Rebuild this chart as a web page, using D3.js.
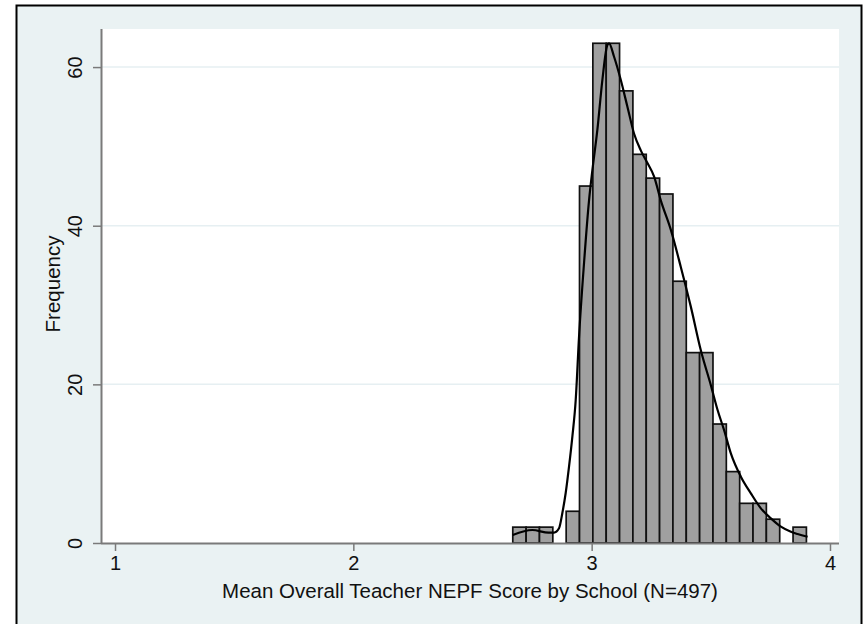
<!DOCTYPE html>
<html>
<head>
<meta charset="utf-8">
<script src="https://cdn.jsdelivr.net/npm/d3@7"></script>
<style>
  html, body { margin: 0; padding: 0; background: #ffffff; }
  svg { display: block; }
  text { font-family: "Liberation Sans", Arial, sans-serif; fill: #111; }
</style>
</head>
<body>
<script>
// ---- data ----
const binStart = 2.669;
const binWidth = 0.056;
const frequencies = [2, 2, 2, 0, 4, 45, 63, 63, 57, 49, 46, 44, 33, 24, 24, 15, 9, 5, 5, 3, 0, 2];
const densityX = [2.669, 2.751, 2.819, 2.842, 2.863, 2.877, 2.891, 2.905, 2.919, 2.933, 2.947, 2.968, 2.989, 3.003, 3.024, 3.045, 3.066, 3.073, 3.094, 3.122, 3.150, 3.178, 3.206, 3.234, 3.262, 3.290, 3.332, 3.374, 3.416, 3.458, 3.500, 3.528, 3.556, 3.584, 3.626, 3.668, 3.710, 3.752, 3.794, 3.836, 3.864, 3.906];
const densityY = [1.01, 1.64, 1.30, 1.30, 1.85, 3.78, 6.30, 9.62, 13.4, 18.0, 26.0, 35.3, 43.2, 47.0, 52.1, 58.4, 62.8, 63.0, 61.3, 58.4, 55.0, 51.6, 49.5, 47.9, 46.2, 43.2, 39.5, 34.8, 29.8, 24.3, 19.9, 16.8, 14.2, 11.3, 8.36, 6.26, 4.37, 3.11, 2.06, 1.42, 1.13, 0.79];
const xTicks = [1, 2, 3, 4];
const yTicks = [0, 20, 40, 60];
const xLabel = "Mean Overall Teacher NEPF Score by School (N=497)";
const yLabel = "Frequency";

// ---- layout ----
const W = 868, H = 624;
const plot = { left: 101, right: 839, top: 29, bottom: 543 };

const svg = d3.select("body").append("svg").attr("width", W).attr("height", H);

// outer graph region
svg.append("rect").attr("x", 16.5).attr("y", 5.5).attr("width", 845).attr("height", 640)
  .attr("fill", "#eaf2f3").attr("stroke", "#000").attr("stroke-width", 2);

// plot region
svg.append("rect").attr("x", plot.left).attr("y", plot.top)
  .attr("width", plot.right - plot.left).attr("height", plot.bottom - plot.top)
  .attr("fill", "#ffffff");

const x = d3.scaleLinear().domain([0.9412, 4.0378]).range([plot.left, plot.right]);
const y = d3.scaleLinear().domain([0, 64.8]).range([plot.bottom, plot.top]);

// gridlines
svg.append("g").selectAll("line").data(yTicks.filter(d => d > 0)).join("line")
  .attr("x1", plot.left).attr("x2", plot.right)
  .attr("y1", d => y(d)).attr("y2", d => y(d))
  .attr("stroke", "#e6eff2").attr("stroke-width", 1.5);

// bars
const bins = frequencies.map((f, i) => ({ x0: binStart + i * binWidth, x1: binStart + (i + 1) * binWidth, f }));
svg.append("g").selectAll("rect").data(bins.filter(b => b.f > 0)).join("rect")
  .attr("x", d => x(d.x0)).attr("width", d => x(d.x1) - x(d.x0))
  .attr("y", d => y(d.f)).attr("height", d => y(0) - y(d.f))
  .attr("fill", "#a0a0a0").attr("stroke", "#111").attr("stroke-width", 1.7);

// density curve
const pts = densityX.map((v, i) => [v, densityY[i]]);
svg.append("path").datum(pts)
  .attr("d", d3.line().x(d => x(d[0])).y(d => y(d[1])).curve(d3.curveMonotoneX))
  .attr("fill", "none").attr("stroke", "#000").attr("stroke-width", 2.2);

// axes
const xAxis = d3.axisBottom(x).tickValues(xTicks).tickFormat(d3.format("d")).tickSize(8).tickPadding(5);
const gx = svg.append("g").attr("transform", `translate(0,${plot.bottom})`).call(xAxis);
gx.select(".domain").attr("d", `M${plot.left},0.5H${plot.right}`).attr("stroke", "#7a7a7a").attr("stroke-width", 2);
gx.selectAll(".tick line").attr("stroke", "#7a7a7a").attr("stroke-width", 1.5);
gx.selectAll(".tick text").attr("font-size", 20).attr("fill", "#111").attr("y", 13)
  .style("font-family", "Liberation Sans, Arial, sans-serif");

const yAxis = d3.axisLeft(y).tickValues(yTicks).tickFormat(d3.format("d")).tickSize(8).tickPadding(0);
const gy = svg.append("g").attr("transform", `translate(${plot.left},0)`).call(yAxis);
gy.select(".domain").attr("d", `M0.5,${plot.top}V${plot.bottom}`).attr("stroke", "#7a7a7a").attr("stroke-width", 2);
gy.selectAll(".tick line").attr("stroke", "#7a7a7a").attr("stroke-width", 1.5);
gy.selectAll(".tick text")
  .attr("font-size", 20).attr("fill", "#111")
  .style("font-family", "Liberation Sans, Arial, sans-serif")
  .attr("text-anchor", "middle")
  .attr("dy", 0)
  .attr("transform", "rotate(-90)")
  .attr("x", 0).attr("y", -19);

// axis titles
svg.append("text").attr("x", 470).attr("y", 598).attr("text-anchor", "middle")
  .attr("font-size", 20.5).text(xLabel);
svg.append("text").attr("transform", `translate(60,${284}) rotate(-90)`).attr("text-anchor", "middle")
  .attr("font-size", 20.5).text(yLabel);
</script>
</body>
</html>
